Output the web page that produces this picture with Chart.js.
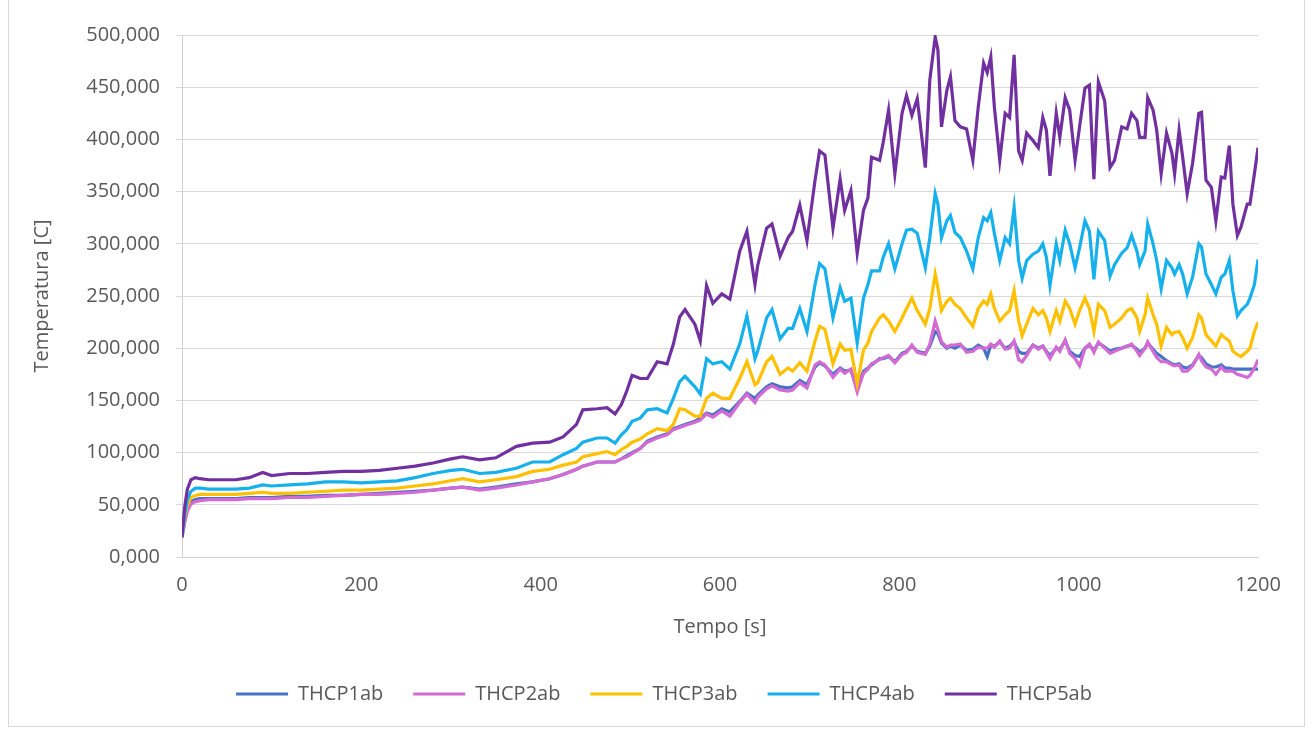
<!DOCTYPE html>
<html>
<head>
<meta charset="utf-8">
<script src="https://cdn.jsdelivr.net/npm/chart.js@4"></script>
<style>
  html, body { margin: 0; padding: 0; background: #fff; overflow: hidden; }
  #wrap { position: relative; width: 1314px; height: 729px; }
  #frame { position: absolute; left: 8px; top: -2px; width: 1297px; height: 729px; border: 1px solid #D9D9D9; box-sizing: border-box; pointer-events: none; }
  canvas { position: absolute; left: 0; top: 0; }
</style>
</head>
<body>
<div id="wrap">
  <canvas id="myChart" width="1314" height="729"></canvas>
  <div id="frame"></div>
</div>
<script>
// tempo [s]
var tempo = [
  0, 3, 6, 10, 15, 20, 30, 45, 60, 75,
  90, 100, 120, 140, 160, 180, 200, 220, 240, 260,
  280, 300, 313, 332, 350, 373, 391, 410, 425, 440,
  447, 463, 474, 483, 490, 496, 502, 511, 519, 530,
  541, 548, 555, 561, 572, 578, 585, 592, 602, 611,
  622, 630, 639, 642, 652, 658, 667, 676, 681, 689,
  697, 706, 711, 717, 726, 734, 739, 746, 753, 760,
  765, 769, 778, 782, 788, 795, 803, 808, 814, 820,
  829, 834, 840, 843, 847, 853, 857, 862, 868, 875,
  882, 888, 894, 898, 902, 906, 912, 918, 923, 928,
  933, 937, 942, 949, 955, 960, 964, 968, 975, 979,
  985, 990, 996, 1001, 1007, 1012, 1017, 1022, 1029, 1035,
  1040, 1048, 1054, 1059, 1065, 1068, 1074, 1077, 1083, 1087,
  1092, 1098, 1104, 1107, 1112, 1116, 1121, 1127, 1134, 1137,
  1142, 1148, 1153, 1159, 1163, 1168, 1172, 1177, 1181, 1188,
  1191, 1196, 1200
];

var thcp1 = [
  19, 35, 46, 53, 55, 56, 56, 56, 56, 57,
  57, 57, 58, 58, 59, 59, 60, 61, 62, 63,
  64, 66, 67, 65, 67, 70, 72, 75, 79, 84,
  87, 91, 91, 91, 94, 97, 100, 104, 111, 115,
  118, 123, 125, 127, 130, 133, 138, 136, 142, 139,
  149, 157, 152, 155, 163, 166, 163, 162, 163, 169,
  165, 182, 186, 183, 175, 181, 178, 179, 162, 178,
  181, 184, 190, 190, 192, 187, 195, 197, 202, 197,
  195, 202, 216, 214, 205, 200, 202, 200, 203, 198,
  199, 203, 200, 192, 203, 202, 206, 200, 202, 206,
  197, 195, 195, 203, 200, 202, 197, 193, 200, 199,
  207, 197, 193, 192, 200, 203, 198, 205, 201, 197,
  199, 200, 202, 203, 199, 196, 200, 205, 199, 195,
  192, 188, 185, 184, 185, 182, 181, 184, 193, 191,
  185, 182, 182, 184, 181, 181, 180, 180, 180, 180,
  180, 180, 180
];

var thcp2 = [
  19, 33, 44, 51, 53, 54, 55, 55, 55, 56,
  56, 56, 57, 57, 58, 59, 60, 60, 61, 62,
  64, 66, 67, 64, 66, 69, 72, 75, 79, 84,
  87, 91, 91, 91, 94, 96, 99, 104, 110, 114,
  117, 122, 124, 126, 129, 131, 137, 134, 140, 135,
  148, 156, 148, 153, 161, 164, 160, 159, 160, 167,
  162, 184, 187, 184, 172, 180, 176, 180, 158, 176,
  180, 185, 189, 191, 193, 186, 194, 196, 203, 196,
  194, 204, 226, 218, 206, 201, 203, 203, 204, 196,
  197, 201, 200, 200, 204, 201, 207, 199, 200, 207,
  189, 187, 193, 203, 199, 202, 196, 190, 201, 197,
  208, 195, 190, 183, 200, 204, 196, 206, 200, 195,
  197, 200, 202, 204, 197, 193, 200, 206, 197, 191,
  187, 187, 184, 183, 184, 178, 178, 183, 194, 188,
  182, 180, 175, 182, 178, 178, 178, 175, 174, 172,
  174, 181, 189
];

var thcp3 = [
  19, 38, 50, 57, 59, 60, 60, 60, 60, 61,
  62, 61, 61, 62, 63, 64, 64, 65, 66, 68,
  70, 73, 75, 72, 74, 77, 82, 84, 88, 91,
  96, 99, 101, 98, 103, 106, 110, 113, 118, 123,
  121, 127, 142, 141, 135, 135, 152, 157, 152, 152,
  171, 187, 165, 167, 187, 192, 175, 181, 178, 186,
  178, 207, 221, 218, 185, 204, 198, 199, 166, 198,
  205, 216, 229, 232, 226, 216, 229, 238, 248, 236,
  223, 238, 271, 258, 236, 245, 248, 242, 238, 229,
  221, 238, 245, 242, 252, 238, 226, 232, 236, 255,
  226, 212, 223, 238, 232, 236, 229, 216, 236, 226,
  245, 238, 223, 236, 248, 238, 216, 242, 236, 220,
  223, 229, 236, 238, 229, 216, 232, 248, 232, 223,
  202, 220, 213, 215, 216, 210, 200, 210, 232, 229,
  213, 207, 202, 213, 210, 207, 197, 194, 192, 197,
  200, 216, 225
];

var thcp4 = [
  19, 40, 55, 63, 66, 66, 65, 65, 65, 66,
  69, 68, 69, 70, 72, 72, 71, 72, 73, 76,
  80, 83, 84, 80, 81, 85, 91, 91, 98, 104,
  110, 114, 114, 109, 117, 122, 130, 133, 141, 142,
  138, 152, 168, 173, 163, 156, 190, 185, 187, 180,
  204, 231, 190, 197, 229, 237, 209, 219, 219, 238,
  216, 261, 281, 276, 229, 258, 245, 248, 205, 248,
  261, 274, 274, 287, 300, 276, 300, 313, 314, 310,
  277, 306, 348, 338, 306, 322, 327, 311, 306, 293,
  276, 306, 325, 322, 330, 310, 284, 306, 300, 335,
  284, 267, 284, 290, 293, 300, 287, 260, 300, 284,
  313, 300, 277, 296, 322, 312, 266, 312, 303, 269,
  280, 291, 296, 308, 293, 280, 293, 319, 300, 284,
  257, 284, 277, 271, 280, 271, 252, 268, 300, 297,
  271, 261, 252, 268, 271, 284, 255, 231, 236, 242,
  248, 261, 285
];

var thcp5 = [
  19, 48, 65, 74, 76, 75, 74, 74, 74, 76,
  81, 78, 80, 80, 81, 82, 82, 83, 85, 87,
  90, 94, 96, 93, 95, 106, 109, 110, 115, 127,
  141, 142, 143, 137, 146, 159, 174, 171, 171, 187,
  185, 204, 230, 237, 223, 207, 260, 243, 252, 247,
  293, 312, 261, 279, 315, 319, 288, 306, 312, 337,
  303, 361, 389, 385, 315, 362, 332, 351, 291, 332,
  344, 383, 380, 397, 428, 367, 425, 442, 423, 439,
  373, 457, 498, 486, 412, 447, 460, 418, 412, 410,
  380, 431, 473, 464, 479, 431, 380, 425, 421, 481,
  389, 380, 406, 399, 392, 421, 409, 365, 425, 402,
  440, 428, 380, 412, 449, 452, 362, 455, 437, 373,
  380, 412, 410, 425, 418, 402, 402, 440, 428, 409,
  367, 406, 387, 367, 409, 383, 348, 377, 425, 426,
  361, 354, 322, 364, 363, 394, 338, 308, 316, 338,
  338, 367, 392
];

var serie = ['THCP1ab', 'THCP2ab', 'THCP3ab', 'THCP4ab', 'THCP5ab'];
var colori = ['#4472C4', '#D46AD4', '#FFC000', '#16B1EC', '#7030A0'];
var valori = [thcp1, thcp2, thcp3, thcp4, thcp5];

function punti(v) {
  return tempo.map(function (t, i) { return { x: t, y: v[i] }; });
}

var grigio = '#595959';
var font = { family: "'Open Sans', sans-serif", size: 20 };

var ctx = document.getElementById('myChart').getContext('2d');
var myChart = new Chart(ctx, {
  type: 'line',
  data: {
    datasets: serie.map(function (nome, i) {
      return {
        label: nome,
        data: punti(valori[i]),
        borderColor: colori[i],
        backgroundColor: colori[i],
        borderWidth: 3.2,
        pointRadius: 0,
        tension: 0,
        order: 5 - i
      };
    })
  },
  options: {
    responsive: false,
    animation: false,
    layout: { padding: { left: 14, right: 0, top: 35, bottom: 15 } },
    plugins: {
      legend: {
        position: 'bottom',
        labels: {
          usePointStyle: true,
          pointStyle: 'line',
          pointStyleWidth: 52,
          padding: 30,
          color: grigio,
          font: font,
          sort: function (a, b) { return a.datasetIndex - b.datasetIndex; }
        }
      },
      tooltip: { enabled: false }
    },
    scales: {
      x: {
        type: 'linear',
        min: 0,
        max: 1200,
        grid: { display: false, drawTicks: false },
        border: { display: true, color: '#D0D0D0', width: 1 },
        ticks: {
          stepSize: 200, color: grigio, font: font, padding: 16, maxRotation: 0,
          callback: function (v) { return String(v); }
        },
        title: { display: true, text: 'Tempo [s]', color: grigio, font: font, padding: { top: 0, bottom: 15 } },
        afterFit: function (s) { s.height = 97; }
      },
      y: {
        min: 0,
        max: 500,
        grid: { color: '#D9D9D9', lineWidth: 1, tickLength: 6 },
        border: { display: true, color: '#D0D0D0', width: 1 },
        ticks: {
          stepSize: 50,
          color: grigio,
          font: font,
          padding: 16,
          callback: function (v) { return v.toFixed(3).replace('.', ','); }
        },
        title: { display: true, text: 'Temperatura [C]', color: grigio, font: font, padding: { top: 16, bottom: 0 } },
        afterFit: function (s) { s.width = 168; }
      },
      y2: {
        type: 'linear',
        position: 'right',
        display: true,
        grid: { display: false, drawTicks: false },
        border: { display: false },
        ticks: { display: false },
        afterFit: function (s) { s.width = 56; }
      }
    }
  }
});
</script>
</body>
</html>
